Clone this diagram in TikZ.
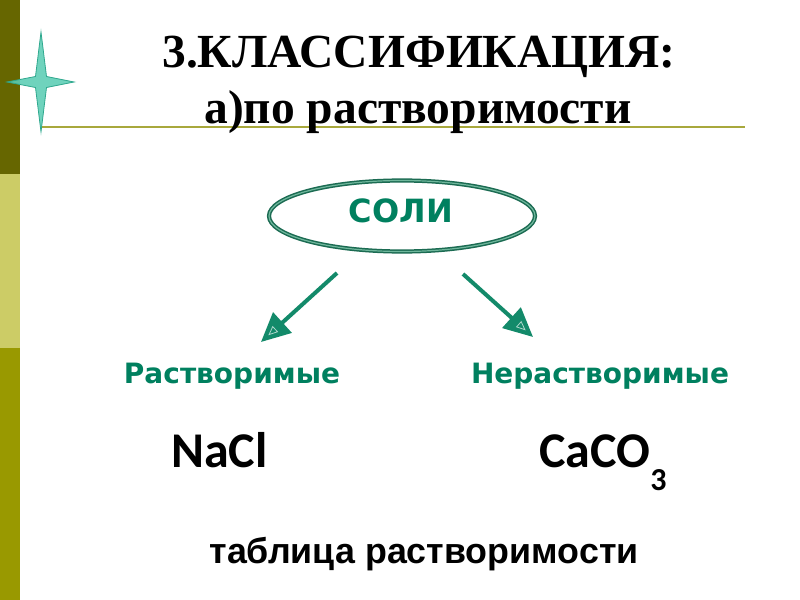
\documentclass[tikz,border=0pt]{standalone}
\usepackage{fontspec}
\setmainfont{Liberation Serif}
\newfontfamily\dvs{DejaVu Sans}
\newfontfamily\lsans{Liberation Sans}
\newfontfamily\carl{Carlito}
\usetikzlibrary{arrows.meta,shapes.geometric}
\definecolor{barA}{HTML}{666600}
\definecolor{barB}{HTML}{CCCC66}
\definecolor{barC}{HTML}{999900}
\definecolor{rule}{HTML}{A8A83C}
\definecolor{starfill}{HTML}{5CCDB5}
\definecolor{stardraw}{HTML}{2FA88E}
\definecolor{txtgreen}{HTML}{00805F}
\definecolor{arrgreen}{HTML}{138A6A}
\definecolor{ellout}{HTML}{1B6B52}
\definecolor{ellin}{HTML}{6FB79C}
\tikzset{
  titletext/.style={anchor=base, inner sep=0, font=\bfseries\fontsize{47.5bp}{52bp}\selectfont},
  greentext/.style={anchor=base, inner sep=0, text=txtgreen, font=\dvs\bfseries\fontsize{28bp}{32bp}\selectfont},
  formula/.style={anchor=base, inner sep=0, font=\carl\bfseries\fontsize{50bp}{56bp}\selectfont},
  arr/.style={draw=arrgreen, line width=4bp, -{Triangle[length=29bp,width=27bp]}},
  headmark/.style={draw=white!65!arrgreen, line width=0.8bp},
}
\begin{document}
\begin{tikzpicture}[x=1bp,y=-1bp]
\useasboundingbox (0,0) rectangle (800,600);
\fill[white] (0,0) rectangle (800,600);
% side bar
\fill[barA] (0,0) rectangle (20,174);
\fill[barB] (0,174) rectangle (20,348);
\fill[barC] (0,348) rectangle (20,600);
% rule
\draw[rule, line width=2bp] (41,127) -- (745,127);
% star
\filldraw[fill=starfill, draw=stardraw, line width=0.8bp, fill opacity=0.88]
  (41,32) -- (46.5,76.5) -- (74,82) -- (46.5,87.5) -- (41,132) -- (35.5,87.5) -- (7,82) -- (35.5,76.5) -- cycle;
% title
\node[titletext] (t1) at (419,68) {3.КЛАССИФИКАЦИЯ:};
\node[titletext] (t2) at (418,124) {а)по растворимости};
% ellipse
\node[ellipse, draw=ellout, line width=1.5bp, double=ellin, double distance=1.2bp,
      minimum width=266bp, minimum height=71bp, inner sep=0] (ell) at (402,216) {};
\node[anchor=base, inner sep=0, text=txtgreen, font=\dvs\bfseries\fontsize{32bp}{38bp}\selectfont] (soli) at (401,223) {СОЛИ};
% labels
\node[greentext] (sol) at (232,383) {Растворимые};
\node[greentext] (insol) at (600,383) {Нерастворимые};
\node[formula] (nacl) at (219.5,467) {NaCl};
\node[formula] (caco) at (603,467) {CaCO\raisebox{-23bp}{\fontsize{32bp}{36bp}\selectfont 3}};
\node[anchor=base, inner sep=0, font=\lsans\bfseries\fontsize{35.8bp}{40bp}\selectfont] (tab) at (424,563) {таблица растворимости};
% arrows
\coordinate (a1s) at (337,273);
\coordinate (a1e) at (261,342);
\coordinate (a2s) at (463,274);
\coordinate (a2e) at (533,337);
\draw[arr] (a1s) -- (a1e);
\draw[arr] (a2s) -- (a2e);
\draw[headmark] (269.1,334.6) -- (277.5,331.8) -- (272.7,326.6) -- cycle;
\draw[headmark] (524.9,329.7) -- (516.6,326.9) -- (521.2,321.7) -- cycle;
\end{tikzpicture}
\end{document}
